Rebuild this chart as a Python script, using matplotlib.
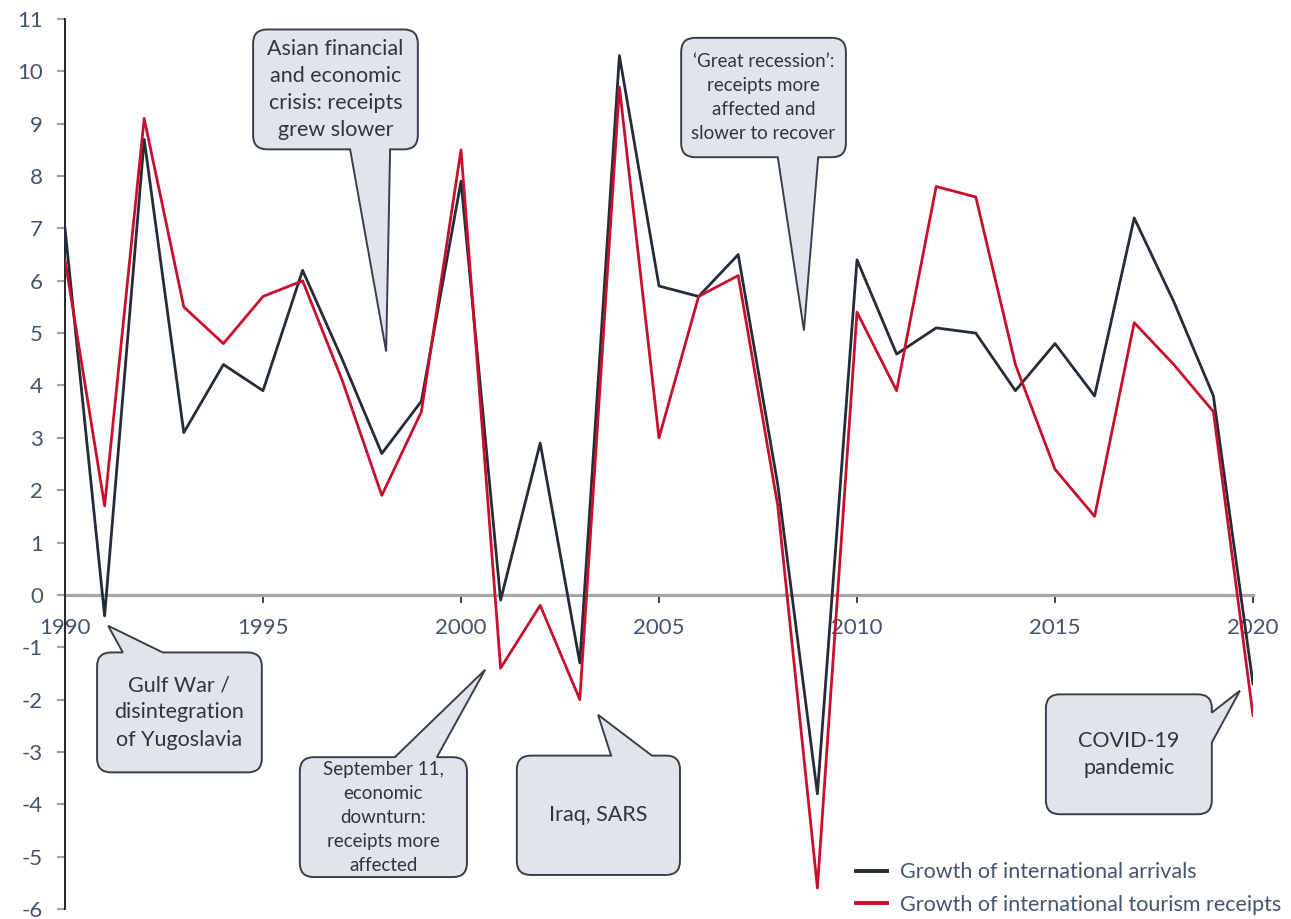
import matplotlib.pyplot as plt
from matplotlib.path import Path
from matplotlib.patches import PathPatch
from matplotlib.transforms import IdentityTransform

plt.rcParams.update({'font.family': ['Lato', 'DejaVu Sans'], 'axes.unicode_minus': False})

years = list(range(1990, 2021))
arrivals = [7.0, -0.4, 8.7, 3.1, 4.4, 3.9, 6.2, 4.5, 2.7, 3.7,
            7.9, -0.1, 2.9, -1.3, 10.3, 5.9, 5.7, 6.5, 2.1, -3.8,
            6.4, 4.6, 5.1, 5.0, 3.9, 4.8, 3.8, 7.2, 5.6, 3.8, -1.7]
receipts = [6.4, 1.7, 9.1, 5.5, 4.8, 5.7, 6.0, 4.1, 1.9, 3.5,
            8.5, -1.4, -0.2, -2.0, 9.7, 3.0, 5.7, 6.1, 1.7, -5.6,
            5.4, 3.9, 7.8, 7.6, 4.4, 2.4, 1.5, 5.2, 4.4, 3.5, -2.3]
series_labels = ['Growth of international arrivals',
                 'Growth of international tourism receipts']
x_ticks = [1990, 1995, 2000, 2005, 2010, 2015, 2020]
y_ticks = list(range(-6, 12))

# callouts: text, box (x0, y0, x1, y1) in data units, side of the pointer,
# pointer base along that side, pointer tip, font size, line spacing
callouts = [
    ('Asian financial\nand economic\ncrisis: receipts\ngrew slower',
     (1994.75, 8.51, 1998.91, 10.80), 'bottom', (1997.2, 1998.21), (1998.11, 4.65), 15.5, 1.45),
    ('\u2018Great recession\u2019:\nreceipts more\naffected and\nslower to recover',
     (2005.56, 8.36, 2009.72, 10.64), 'bottom', (2008.0, 2009.02), (2008.66, 5.05), 13.5, 1.5),
    ('Gulf War /\ndisintegration\nof Yugoslavia',
     (1990.81, -3.39, 1994.97, -1.10), 'top', (1991.46, 1992.47), (1991.09, -0.59), 15.5, 1.45),
    ('September 11,\neconomic\ndownturn:\nreceipts more\naffected',
     (1995.93, -5.39, 2000.15, -3.10), 'top', (1998.33, 1999.39), (2000.61, -1.43), 13.5, 1.5),
    ('Iraq, SARS',
     (2001.41, -5.35, 2005.53, -3.07), 'top', (2003.79, 2004.82), (2003.46, -2.29), 15.5, 1.45),
    ('COVID-19\npandemic',
     (2014.77, -4.19, 2018.96, -1.90), 'right', (-2.82, -2.25), (2019.67, -1.83), 15.5, 1.45),
]

BLACK = '#262c36'
RED = '#c8102e'
TEXT = '#44546a'


def callout_path(ax, box, side, base, tip, r=14):
    tr = ax.transData.transform
    L, B = tr((box[0], box[1]))
    R, T = tr((box[2], box[3]))
    tx, ty = tr(tip)
    if side == 'right':
        b0 = tr((box[2], base[0]))[1]
        b1 = tr((box[2], base[1]))[1]
    else:
        b0 = tr((base[0], box[1]))[0]
        b1 = tr((base[1], box[1]))[0]
    v, c = [(L + r, B)], [Path.MOVETO]
    if side == 'bottom':
        v += [(b0, B), (tx, ty), (b1, B)]
        c += [Path.LINETO] * 3
    v += [(R - r, B), (R, B), (R, B + r)]
    c += [Path.LINETO, Path.CURVE3, Path.CURVE3]
    if side == 'right':
        v += [(R, b0), (tx, ty), (R, b1)]
        c += [Path.LINETO] * 3
    v += [(R, T - r), (R, T), (R - r, T)]
    c += [Path.LINETO, Path.CURVE3, Path.CURVE3]
    if side == 'top':
        v += [(b1, T), (tx, ty), (b0, T)]
        c += [Path.LINETO] * 3
    v += [(L + r, T), (L, T), (L, T - r), (L, B + r), (L, B), (L + r, B), (L + r, B)]
    c += [Path.LINETO, Path.CURVE3, Path.CURVE3, Path.LINETO, Path.CURVE3, Path.CURVE3,
          Path.CLOSEPOLY]
    return Path(v, c)


fig = plt.figure(figsize=(12.91, 9.19), dpi=100)
ax = fig.add_axes([65 / 1291, 1 - 909 / 919, 1188 / 1291, 890 / 919])

ax.plot(years, arrivals, color=BLACK, lw=2.0, zorder=3, label=series_labels[0])
ax.plot(years, receipts, color=RED, lw=2.0, zorder=4, label=series_labels[1])

ax.set_xlim(1990, 2020)
ax.set_ylim(-6, 11)
ax.set_xticks(x_ticks)
ax.set_yticks(y_ticks)
ax.set_yticklabels([str(v) for v in y_ticks])
ax.autoscale(False)

for s in ['top', 'right']:
    ax.spines[s].set_visible(False)
ax.spines['bottom'].set_position(('data', 0))
ax.spines['bottom'].set_color('#a6a6a6')
ax.spines['bottom'].set_linewidth(2.3)
ax.spines['bottom'].set_zorder(2)
ax.spines['left'].set_color('#22262d')
ax.spines['left'].set_linewidth(1.4)

ax.tick_params(axis='y', direction='out', length=6, width=1.5, color='#a0a0a0',
               labelsize=16, labelcolor=TEXT, pad=10)
ax.tick_params(axis='x', direction='out', length=6, width=1.3, color='#333333',
               labelsize=16, labelcolor=TEXT, pad=11)

fig.canvas.draw()
for text, box, side, base, tip, fs, ls in callouts:
    path = callout_path(ax, box, side, base, tip)
    patch = PathPatch(path, facecolor='#e1e5ea', edgecolor='#3a3f47', lw=1.4,
                      transform=IdentityTransform(), zorder=1, clip_on=False)
    ax.add_patch(patch)
    ax.text((box[0] + box[2]) / 2, (box[1] + box[3]) / 2, text, ha='center', va='center',
            multialignment='center', fontsize=fs, color='#2f3540', linespacing=ls,
            zorder=5)

leg = ax.legend(loc='center left', bbox_to_anchor=(0.666, 0.023), frameon=False,
                fontsize=15.5, handlelength=1.45, handletextpad=0.6, labelspacing=0.58,
                borderpad=0, borderaxespad=0)
for t in leg.get_texts():
    t.set_color(TEXT)
for h in leg.get_lines():
    h.set_linewidth(2.8)

fig.savefig('out.png', dpi=100)
